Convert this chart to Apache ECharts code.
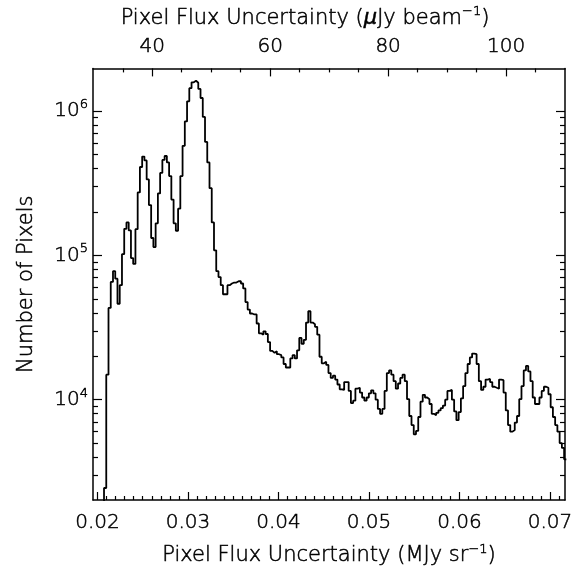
<!DOCTYPE html>
<html><head><meta charset="utf-8">
<script src="https://cdn.jsdelivr.net/npm/echarts@6/dist/echarts.min.js"></script>
<style>html,body{margin:0;padding:0;background:#fff}#c{width:576px;height:575px}</style>
</head><body><div id="c"></div><script>
// Histogram bins (MJy/sr), left edge of first bin and constant bin width
const binStart = 0.020472;
const binWidth = 0.000248;
// Number of pixels per bin
const counts = [1200,
2445, 14900, 43250, 65460, 77700, 69020, 46240, 62170, 101900, 152800,
169300, 148800, 95800, 87200, 151800, 273200, 409700, 483800, 454600, 336000,
223000, 131950, 114200, 166700, 268900, 372900, 458900, 488400, 440700, 354300,
243800, 166700, 148100, 210600, 354300, 574200, 847800, 1168700, 1439800, 1581000,
1621000, 1571000, 1424000, 1232000, 911000, 611200, 440700, 292200, 169300, 108400,
77700, 70760, 62170, 53790, 53790, 62170, 63840, 64850, 64850, 66180,
66180, 63840, 59050, 47490, 42120, 39570, 38970, 38970, 33720, 28850,
28220, 29770, 28530, 25070, 21790, 21120, 21650, 20670, 20350, 19630,
17680, 16720, 16720, 19320, 20350, 19320, 22000, 26810, 24420, 25980,
34250, 41020, 34250, 33340, 31970, 28220, 19850, 17880, 18360, 17410,
15300, 14150, 14670, 13790, 12750, 11800, 11690, 13240, 13240, 11510,
9484, 9845, 11930, 12110, 11200, 10360, 9845, 10360, 11080, 11620,
11080, 10000, 8637, 7990, 8637, 11510, 15300, 15960, 14900, 13450,
11930, 12950, 14150, 14900, 13450, 10090, 7709, 6670, 5761, 6074,
7590, 9694, 10810, 10360, 10090, 9338, 7990, 7795, 8115, 8425,
8732, 9108, 10000, 11510, 11690, 10000, 8296, 7210, 8204, 10200,
12440, 15300, 17680, 19630, 20890, 20670, 17680, 13450, 11690, 12300,
13790, 13940, 13240, 12300, 12110, 11930, 13790, 13660, 11200, 8425,
6670, 6008, 6170, 6946, 7709, 10090, 12440, 15960, 17140, 15710,
13450, 10360, 9338, 9338, 10360, 11510, 12300, 12110, 10910, 8870,
7590, 6670, 6008, 5006, 4632, 3866];

const xMin = 0.019503, xMax = 0.071657;
const topMin = 29.95, topMax = 110.0;
const yMin = 2019, yMax = 1975000;

const xMajorTicks = [0.02, 0.03, 0.04, 0.05, 0.06, 0.07];
const xMinorTicks = [0.021,0.022,0.023,0.024,0.025,0.026,0.027,0.028,0.029,
  0.031,0.032,0.033,0.034,0.035,0.036,0.037,0.038,0.039,
  0.041,0.042,0.043,0.044,0.045,0.046,0.047,0.048,0.049,
  0.051,0.052,0.053,0.054,0.055,0.056,0.057,0.058,0.059,
  0.061,0.062,0.063,0.064,0.065,0.066,0.067,0.068,0.069,0.071];
const topMajorTicks = [40, 60, 80, 100];
const topMinorTicks = [35, 45, 50, 55, 65, 70, 75, 85, 90, 95, 105];
const yMajorTicks = [1e4, 1e5, 1e6];
const yMinorTicks = [3000,4000,5000,6000,7000,8000,9000,
  20000,30000,40000,50000,60000,70000,80000,90000,
  200000,300000,400000,500000,600000,700000,800000,900000];

const FONT = 'DejaVu Sans';
const black = '#000';
// thin font, slightly thickened with a hairline outline
const T = {fontFamily: FONT, fontWeight: 300, color: black, textBorderColor: black, textBorderWidth: 0.5};
const supStyle = Object.assign({}, T, {fontSize: 13, verticalAlign: 'top', lineHeight: 10});

function tickAxis(base, ticks, len, lab) {
  return Object.assign({
    type: base.type, position: base.position, min: base.min, max: base.max,
    splitLine: {show: false},
    axisLine: {show: !!base.line, lineStyle: {color: black, width: 1.5}},
    axisTick: {show: true, inside: true, length: len, customValues: ticks, lineStyle: {color: black, width: 1.2}},
    axisLabel: lab ? lab : {show: false},
    silent: true
  }, base.extra || {});
}

const stepData = counts.map((c, i) => [binStart + i * binWidth, c]);
stepData.push([binStart + counts.length * binWidth, counts[counts.length - 1]]);

const chart = echarts.init(document.getElementById('c'));
chart.setOption({
  animation: false,
  backgroundColor: '#fff',
  grid: {left: 93, top: 58, width: 472, height: 442, containLabel: false},
  xAxis: [
    tickAxis({type: 'value', position: 'bottom', min: xMin, max: xMax, line: true,
      extra: {name: 'Pixel Flux Uncertainty (MJy sr{s|−1})', nameLocation: 'middle', nameGap: 43,
        nameTextStyle: Object.assign({}, T, {fontSize: 21, lineHeight: 26, rich: {s: supStyle}})}},
      xMajorTicks, 8,
      Object.assign({}, T, {show: true, customValues: xMajorTicks, formatter: v => v.toFixed(2), fontSize: 20, margin: 13})),
    tickAxis({type: 'value', position: 'bottom', min: xMin, max: xMax}, xMinorTicks, 4),
    tickAxis({type: 'value', position: 'top', min: topMin, max: topMax, line: true,
      extra: {name: 'Pixel Flux Uncertainty ({g|μ}Jy beam{s|−1})', nameLocation: 'middle', nameGap: 34,
        nameTextStyle: Object.assign({}, T, {fontSize: 21, lineHeight: 26, padding: [0, 48, 0, 0],
          rich: {s: supStyle, g: {fontFamily: FONT, fontWeight: 'normal', color: black, fontSize: 21, fontStyle: 'italic', lineHeight: 26}}})}},
      topMajorTicks, 8,
      Object.assign({}, T, {show: true, customValues: topMajorTicks, fontSize: 20, margin: 12})),
    tickAxis({type: 'value', position: 'top', min: topMin, max: topMax}, topMinorTicks, 4)
  ],
  yAxis: [
    tickAxis({type: 'log', position: 'left', min: yMin, max: yMax, line: true,
      extra: {logBase: 10, name: 'Number of Pixels', nameLocation: 'middle', nameGap: 56,
        nameTextStyle: Object.assign({}, T, {fontSize: 21})}},
      yMajorTicks, 9,
      {show: true, customValues: yMajorTicks, margin: 5,
        formatter: v => '{b|10}{s|' + Math.round(Math.log10(v)) + '}',
        rich: {b: Object.assign({}, T, {fontSize: 20, lineHeight: 26}), s: supStyle}}),
    tickAxis({type: 'log', position: 'left', min: yMin, max: yMax, extra: {logBase: 10}}, yMinorTicks, 5),
    tickAxis({type: 'log', position: 'right', min: yMin, max: yMax, line: true, extra: {logBase: 10}}, yMajorTicks, 9),
    tickAxis({type: 'log', position: 'right', min: yMin, max: yMax, extra: {logBase: 10}}, yMinorTicks, 5)
  ],
  series: [{
    type: 'line', xAxisIndex: 0, yAxisIndex: 0, data: stepData, step: 'end',
    symbol: 'none', clip: true, silent: true,
    lineStyle: {color: black, width: 1.8}
  }]
});
</script></body></html>
